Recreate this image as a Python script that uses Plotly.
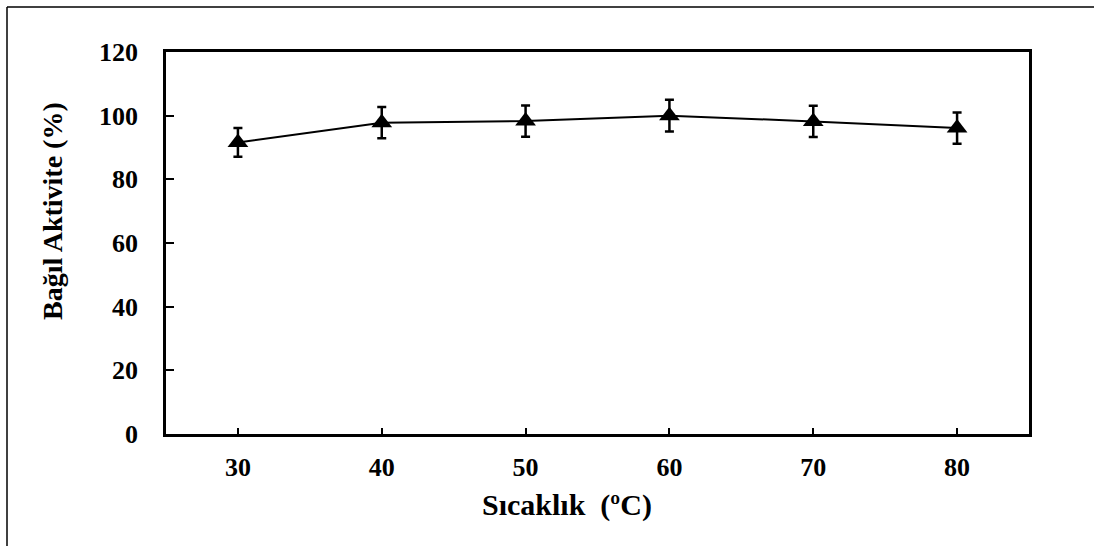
import plotly.graph_objects as go

temps = [30, 40, 50, 60, 70, 80]
activity = [91.6, 97.8, 98.3, 100.0, 98.2, 96.1]
errors = [4.5, 4.9, 4.9, 5.0, 4.9, 4.9]
y_ticks = [0, 20, 40, 60, 80, 100, 120]
x_ticks = [30, 40, 50, 60, 70, 80]
x_title = "Sıcaklık  (ºC)"
y_title = "Bağıl Aktivite (%)"

W, H = 1094, 546
L, R, T, B = 166, 65, 52, 112
pw, ph = W - L - R, H - T - B

def px(x):
    return (x - L) / pw

def py(y):
    return (H - B - y) / ph

font = "Liberation Serif"

fig = go.Figure()
fig.add_trace(go.Scatter(
    x=temps, y=activity, mode="lines+markers",
    line=dict(color="black", width=2),
    marker=dict(symbol="triangle-up", size=18, color="black"),
    error_y=dict(type="data", array=errors, visible=True, color="black",
                 thickness=2.5, width=4.5),
    showlegend=False,
))

fig.update_layout(
    width=W, height=H,
    margin=dict(l=L, r=R, t=T, b=B),
    paper_bgcolor="white", plot_bgcolor="white",
    font=dict(family=font, color="black"),
    xaxis=dict(
        range=[25, 85], tickvals=x_ticks, ticktext=[str(v) for v in x_ticks],
        ticks="inside", ticklen=6, tickwidth=1.5, tickcolor="black",
        showline=True, linecolor="black", linewidth=2.5, mirror=True,
        showgrid=False, zeroline=False,
        tickfont=dict(family=font, size=26, color="black", weight="bold"),
        ticklabelstandoff=8,
    ),
    yaxis=dict(
        range=[0, 120], tickvals=y_ticks, ticktext=[str(v) for v in y_ticks],
        ticks="inside", ticklen=8, tickwidth=2, tickcolor="black",
        showline=True, linecolor="black", linewidth=2.5, mirror=True,
        showgrid=False, zeroline=False,
        tickfont=dict(family=font, size=26, color="black", weight="bold"),
        ticklabelstandoff=20,
    ),
)

fig.add_annotation(text="<b>" + x_title + "</b>", xref="paper", yref="paper",
                   x=px(567), y=py(505), xanchor="center", yanchor="middle",
                   showarrow=False, font=dict(family=font, size=30, color="black"))
fig.add_annotation(text="<b>" + y_title + "</b>", xref="paper", yref="paper",
                   x=px(52), y=py(211), xanchor="center", yanchor="middle",
                   textangle=-90, showarrow=False,
                   font=dict(family=font, size=28, color="black"))

# outer frame (left, top edges)
fig.add_shape(type="line", xref="paper", yref="paper",
              x0=px(7), x1=px(7), y0=py(7), y1=py(H + 5),
              line=dict(color="black", width=1.5))
fig.add_shape(type="line", xref="paper", yref="paper",
              x0=px(7), x1=px(W + 5), y0=py(7), y1=py(7),
              line=dict(color="black", width=1.5))

fig.write_html("out.html")
